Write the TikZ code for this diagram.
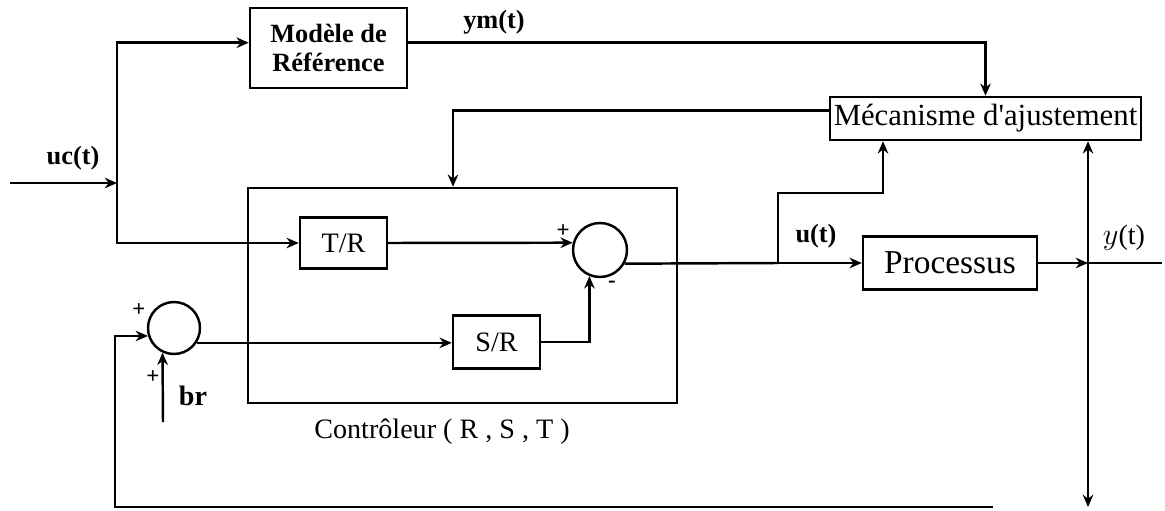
\documentclass[tikz,border=0pt]{standalone}
\usepackage{fontspec}
\setmainfont{Liberation Serif}
\usetikzlibrary{arrows.meta,positioning,calc}
\tikzset{
  block/.style={draw,line width=1.4pt,inner sep=0pt,align=center,font=\fontsize{16pt}{19pt}\selectfont},
  sum/.style={draw,circle,line width=1.4pt,inner sep=0pt,minimum size=1.06cm},
  flow/.style={-{Stealth[length=7pt,width=6pt]},line width=1.4pt},
  line/.style={line width=1.4pt},
  lbl/.style={font=\fontsize{15pt}{17pt}\selectfont\bfseries},
  sign/.style={font=\fontsize{13pt}{13pt}\selectfont\bfseries,inner sep=0pt}
}

\begin{document}
\begin{tikzpicture}[x=0.02cm,y=-0.02cm]
  \useasboundingbox (0,0) rectangle (1165,510);
  % blocks
  \node[block,lbl,minimum width=3.14cm,minimum height=1.6cm] (refmodel) at (328.5,48) {Mod\`ele de\\R\'ef\'erence};
  \node[block,font=\fontsize{17.5pt}{19pt}\selectfont,minimum width=6.22cm,minimum height=0.86cm] (adjust) at (985.5,118.5) {M\'ecanisme d\textquotesingle ajustement};
  \node[block,minimum width=8.58cm,minimum height=4.3cm] (ctrl) at (462.5,295.5) {};
  \node[block,minimum width=1.74cm,minimum height=1.02cm] (tr) at (343.5,243) {T/R};
  \node[block,minimum width=1.74cm,minimum height=1.06cm] (sr) at (496.5,342) {S/R};
  \node[block,font=\fontsize{19pt}{21pt}\selectfont,minimum width=3.48cm,minimum height=1.06cm] (process) at (950,263) {Processus};
  \node[sum,minimum size=1.08cm] (sumc) at (600,250) {};
  \node[sum,minimum size=1.04cm] (sumb) at (174,328) {};
  \node[font=\fontsize{16pt}{19pt}\selectfont] (ctrllabel) at (442,432) {Contr\^oleur ( R , S , T )};

  % free ends and branch points
  \coordinate (ucin) at (10,183);
  \coordinate (ucj) at (117,183);
  \coordinate (ubr) at (778,263);
  \coordinate (ukink) at (883,193);
  \coordinate (yjct) at (1088,263);
  \coordinate (yout) at (1162,263);
  \coordinate (ydown) at (1088,507);
  \coordinate (fbend) at (993,507);
  \coordinate (fbcorner) at (115,507);
  \coordinate (brin) at (163,422);

  % reference input
  \draw[flow] (ucin) -- (ucj);
  \node[lbl] (uclabel) at (73,158) {uc(t)};
  \draw[flow] (ucj) |- ([yshift=3pt]refmodel.west);
  \draw[flow] (ucj) |- (tr.west);

  % model output
  \draw[flow] ([yshift=3pt]refmodel.east) -| (adjust.north);
  \node[lbl] (ymlabel) at (494,22) {ym(t)};

  % adjustment to controller
  \draw[flow] ([yshift=4.5pt]adjust.west) -| ([xshift=-5.4pt]ctrl.north);

  % inside the controller
  \draw[flow] (tr.east) -- (sumc.165);
  \node[sign] (pc) at (563,231) {+};
  \draw[flow] (sr.east) -| (sumc.248);
  \node[sign] (mc) at (612,284) {-};
  \draw[flow] (sumb.-33) -- (sumb.-33 -| sr.west);

  % control signal
  \draw[line] (sumc.-29) -- (ubr);
  \draw[flow] (ubr) -- (process.west);
  \node[lbl] (ulabel) at (816,236) {u(t)};
  \draw[flow] (ubr) |- (ukink) -- (ukink |- adjust.south);

  % process output
  \draw[flow,line width=1.1pt] (process.east) -- (yjct);
  \draw[line width=1.1pt] (yjct) -- (yout);
  \node[font=\fontsize{16pt}{19pt}\selectfont] (ylabel) at (1124,238) {$y$(t)};
  \draw[{Stealth[length=7pt,width=6pt]}-{Stealth[length=7pt,width=6pt]},line width=1.1pt] (ydown) -- (ydown |- adjust.south);

  % feedback and disturbance
  \draw[flow] (fbend) -- (fbcorner) |- (sumb.197);
  \node[sign] (pb) at (139,310) {+};
  \draw[flow] (brin) -- (sumb.245);
  \node[sign] (pbr) at (153,377) {+};
  \node[lbl,font=\fontsize{16pt}{19pt}\selectfont\bfseries] (brlabel) at (193,396) {br};
\end{tikzpicture}
\end{document}
